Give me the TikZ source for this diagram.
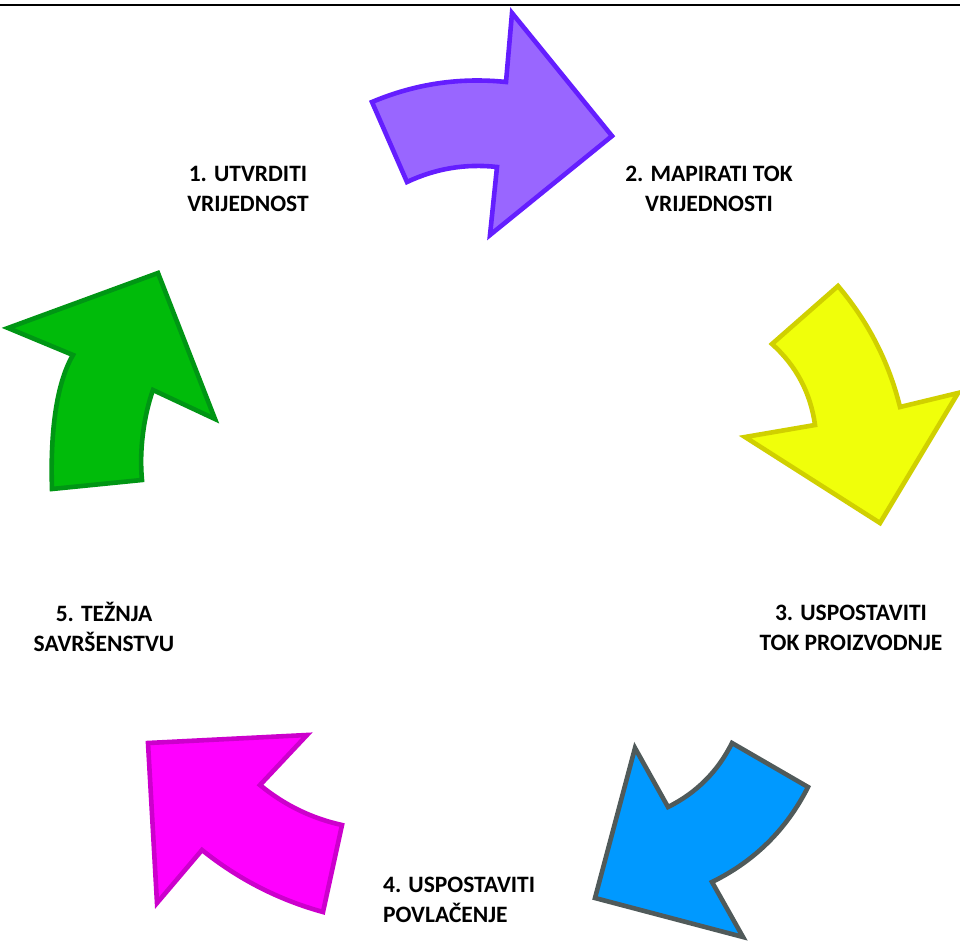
\documentclass[tikz,border=0pt]{standalone}
\usepackage{fontspec}
\setmainfont{Carlito}
\begin{document}
\begin{tikzpicture}[x=1pt,y=-1pt,
  arrowshape/.style={line width=4.6pt, line join=miter, miter limit=10},
  lbl/.style={font=\fontsize{23.5}{30.5}\selectfont\bfseries, align=center, inner sep=0pt},
  lblleft/.style={font=\fontsize{23.5}{30.5}\selectfont\bfseries, align=left, inner sep=0pt, anchor=west}]
\definecolor{pfill}{RGB}{153,102,255}
\definecolor{pdraw}{RGB}{100,30,255}
\definecolor{yfill}{RGB}{240,255,10}
\definecolor{ydraw}{RGB}{208,208,0}
\definecolor{bfill}{RGB}{0,153,255}
\definecolor{bdraw}{RGB}{80,90,90}
\definecolor{mfill}{RGB}{255,0,255}
\definecolor{mdraw}{RGB}{204,0,204}
\definecolor{gfill}{RGB}{0,187,10}
\definecolor{gdraw}{RGB}{0,150,20}
\useasboundingbox (0,0) rectangle (960,940);
\fill[white] (0,0) rectangle (960,940);
% top rule
\coordinate (ruleL) at (0,5);
\coordinate (ruleR) at (960,5);
\draw[line width=2.2pt] (ruleL) -- (ruleR);
% 1 purple arrow
\draw[arrowshape, fill=pfill, draw=pdraw]
  (372,102) -- (407,182) .. controls (435.6,168.5) and (465.6,163.5) .. (497,167)
  -- (490,235) -- (612,136) -- (512,13) -- (506,82)
  .. controls (459.6,77.2) and (414.9,83.9) .. cycle;
% 2 yellow arrow
\draw[arrowshape, fill=yfill, draw=ydraw]
  (772,344) -- (838,286) .. controls (868.1,321.5) and (888.8,361.8) .. (900,407)
  -- (958,393) -- (880,523) -- (745,437) -- (815,425)
  .. controls (810.5,392.7) and (796.2,365.7) .. cycle;
% 3 blue arrow
\draw[arrowshape, fill=bfill, draw=bdraw]
  (732,743) -- (808,787) .. controls (786.6,829.4) and (754.6,861.1) .. (712,882)
  -- (743,937) -- (595,898) -- (635,748) -- (668,807)
  .. controls (696.5,792.8) and (717.8,771.5) .. cycle;
% 4 magenta arrow
\draw[arrowshape, fill=mfill, draw=mdraw]
  (342,825) -- (323,912) .. controls (278.4,899.7) and (238.1,879) .. (202,850)
  -- (157,903) -- (148,743) -- (307,735) -- (260,785)
  .. controls (284.1,804.9) and (311.5,818.3) .. cycle;
% 5 green arrow
\draw[arrowshape, fill=gfill, draw=gdraw]
  (52,489) -- (142,480) .. controls (139,450) and (144,415) .. (153,390)
  -- (215,419) -- (158,273) -- (8,328) -- (73,355)
  .. controls (57,382) and (50,430) .. cycle;
% labels
\node[lbl] (l1) at (248,189) {1. UTVRDITI\\VRIJEDNOST};
\node[lbl] (l2) at (709,189) {2. MAPIRATI TOK\\VRIJEDNOSTI};
\node[lbl] (l3) at (851,628) {3. USPOSTAVITI\\TOK PROIZVODNJE};
\node[lblleft] (l4) at (383,900) {4. USPOSTAVITI\\POVLAČENJE};
\node[lbl] (l5) at (104,627) {5. TEŽNJA\\SAVRŠENSTVU};
\end{tikzpicture}
\end{document}
